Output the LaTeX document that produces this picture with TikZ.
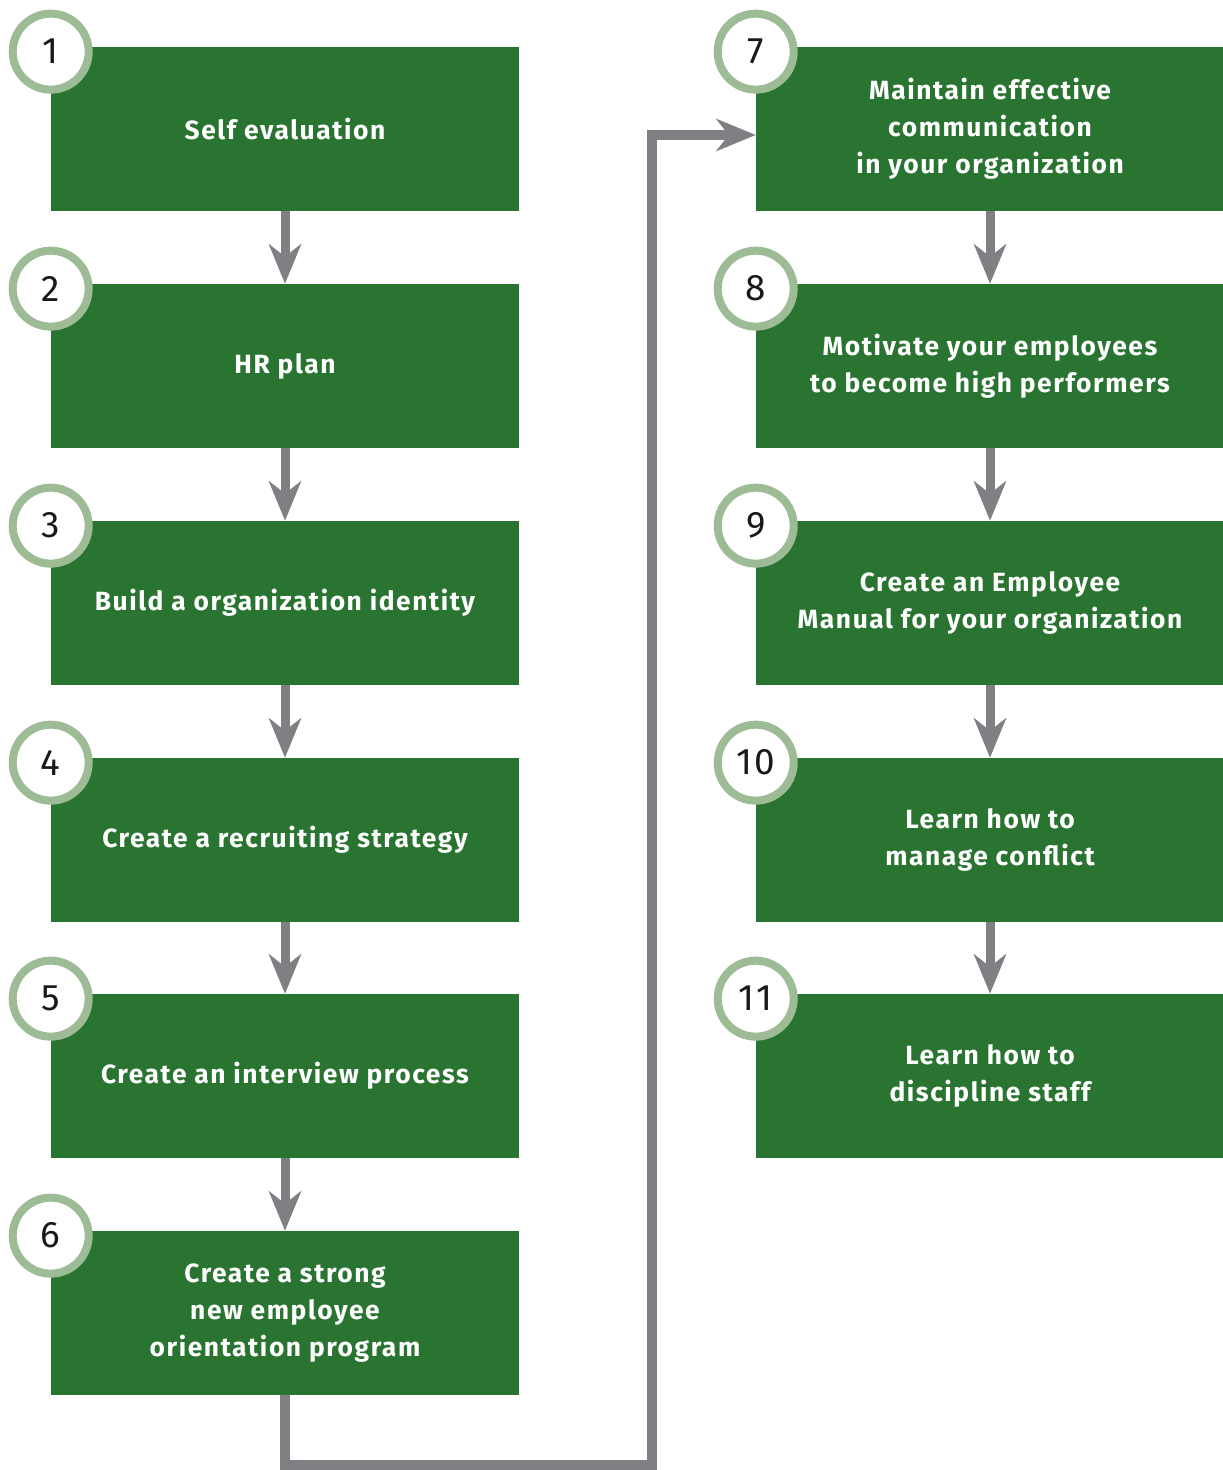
\documentclass[tikz,border=0pt]{standalone}
\usepackage{fontspec}
\setmainfont{Fira Sans}[LetterSpace=6]
\usetikzlibrary{arrows.meta}
\definecolor{stepgreen}{HTML}{2A7431}
\definecolor{ringgreen}{HTML}{9DBB94}
\definecolor{flowgray}{HTML}{808084}
\tikzset{
  stepbox/.style={fill=stepgreen, minimum width=9.36cm, minimum height=3.28cm, align=center,
    text=white, font=\bfseries\fontsize{15}{21}\selectfont, inner sep=0pt},
  numring/.style={circle, draw=ringgreen, fill=white, line width=0.16cm, minimum size=1.52cm,
    inner sep=0pt, font=\fontsize{21}{21}\selectfont, text=black!90, yshift=-0.1cm},
  flow/.style={draw=flowgray, line width=0.18cm, line join=miter,
    -{Stealth[length=0.8cm, width=0.66cm, inset=0.26cm, line width=0pt]}}
}
\begin{document}
\begin{tikzpicture}[x=0.02cm, y=0.02cm]
\useasboundingbox (0,0) rectangle (1223,1470);
% left column
\node[stepbox] (b1) at (285,1341) {Self evaluation};
\node[stepbox] (b2) at (285,1104) {HR plan};
\node[stepbox] (b3) at (285,867) {Build a organization identity};
\node[stepbox] (b4) at (285,630) {Create a recruiting strategy};
\node[stepbox] (b5) at (285,394) {Create an interview process};
\node[stepbox] (b6) at (285,157) {Create a strong\\new employee\\orientation program};
% right column
\node[stepbox] (b7) at (990,1341) {Maintain effective\\communication\\in your organization};
\node[stepbox] (b8) at (990,1104) {Motivate your employees\\to become high performers};
\node[stepbox] (b9) at (990,867) {Create an Employee\\Manual for your organization};
\node[stepbox] (b10) at (990,630) {Learn how to\\manage conflict};
\node[stepbox] (b11) at (990,394) {Learn how to\\discipline staff};
% numbers
\node[numring] (n1) at (b1.north west) {1};
\node[numring] (n2) at (b2.north west) {2};
\node[numring] (n3) at (b3.north west) {3};
\node[numring] (n4) at (b4.north west) {4};
\node[numring] (n5) at (b5.north west) {5};
\node[numring] (n6) at (b6.north west) {6};
\node[numring] (n7) at (b7.north west) {7};
\node[numring] (n8) at (b8.north west) {8};
\node[numring] (n9) at (b9.north west) {9};
\node[numring] (n10) at (b10.north west) {10};
\node[numring] (n11) at (b11.north west) {11};
% arrows
\draw[flow] (b1) -- (b2);
\draw[flow] (b2) -- (b3);
\draw[flow] (b3) -- (b4);
\draw[flow] (b4) -- (b5);
\draw[flow] (b5) -- (b6);
\draw[flow] (b7) -- (b8);
\draw[flow] (b8) -- (b9);
\draw[flow] (b9) -- (b10);
\draw[flow] (b10) -- (b11);
\coordinate (low) at (652,5);
\draw[flow, line width=0.2cm] (b6.south) |- (low) |- ([yshift=-0.12cm]b7.west);
\end{tikzpicture}
\end{document}
